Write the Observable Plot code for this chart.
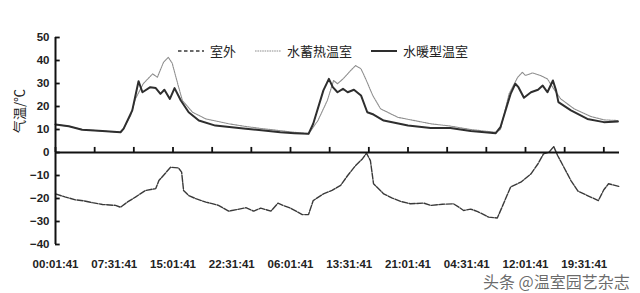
<!DOCTYPE html>
<html>
<head>
<meta charset="utf-8">
<script src="https://cdn.jsdelivr.net/npm/d3@7"></script>
<script src="https://cdn.jsdelivr.net/npm/@observablehq/plot@0.6"></script>
<style>
  html, body { margin: 0; padding: 0; background: #fff; }
  #wrap { position: relative; width: 640px; height: 293px; overflow: hidden; }
  #legend { position: absolute; top: 41px; left: 178px; display: flex; align-items: center;
    font-family: "Noto Sans CJK SC", sans-serif; font-size: 13px; color: #222; white-space: nowrap; }
  #legend .item { display: flex; align-items: center; margin-right: 19px; }
  #legend svg { margin-right: 6px; }
  #wm { position: absolute; left: 483px; top: 273px; line-height: 1; font-family: "Noto Sans CJK SC", sans-serif;
    font-size: 16px; color: rgba(80,80,80,0.85); text-shadow: 0 0 2px #fff, 0 0 1px #fff; white-space: nowrap; }
</style>
</head>
<body>
<div id="wrap"></div>
<script>
// ---- data (hours since 00:01:41, temperature °C) ----
const seriesNames = ["室外", "水蓄热温室", "水暖型温室"];

const outdoorHours = [0, 1.2, 2.55, 3.6, 4.7, 6.0, 7.66, 8.3, 9.2, 10.2, 11.5, 12.8, 13.2, 14.0, 14.7, 15.7, 16.1, 16.35, 17.0, 18.0, 19.2, 20.0, 20.8, 22.1, 23.2, 24.3, 25.3, 26.2, 27.5, 28.4, 29.2, 30.0, 31.5, 32.3, 32.9, 34.2, 35.3, 36.4, 37.3, 38.3, 39.2, 39.7, 40.2, 40.6, 41.9, 43.0, 44.1, 45.3, 47.0, 47.9, 49.4, 50.8, 51.5, 52.1, 53.0, 53.9, 55.3, 56.4, 57.1, 58.1, 59.4, 60.7, 61.6, 62.3, 63.0, 63.6, 64.1, 64.9, 65.8, 66.7, 67.9, 69.3, 70.0, 70.6, 71.9];
const outdoorTemp  = [-18, -19.3, -20.6, -21.0, -21.8, -22.6, -23, -23.8, -21.5, -19.4, -16.5, -15.7, -12.2, -9.1, -6.4, -6.7, -8.5, -16.5, -18.7, -20.2, -21.6, -22.2, -23, -25.5, -24.8, -24, -25.5, -24.2, -25.5, -22, -23.2, -24.2, -27, -27, -20.9, -18, -16.5, -14.3, -10, -5.7, -2.7, -0.3, -3.5, -13.6, -18, -19.8, -21.3, -22.3, -22, -23, -22.5, -22.3, -23.8, -25.2, -24.6, -25.7, -28.1, -28.5, -23, -15, -12.9, -9.3, -4.9, -0.6, 0.1, 2.6, -1.3, -6.4, -12.2, -16.8, -18.7, -20.9, -16.2, -13.6, -14.7];

const storageHours = [0, 1.7, 3.4, 6.0, 8.3, 8.7, 9.6, 10.2, 11.2, 12.4, 13.0, 13.8, 14.4, 14.9, 15.6, 16.2, 17.5, 19.2, 22.1, 24.3, 26.6, 28.7, 30.5, 32.3, 33.5, 34.7, 35.5, 36.0, 36.7, 37.7, 38.3, 39.0, 39.6, 40.5, 41.5, 43.7, 47.9, 50.4, 53.0, 56.2, 56.8, 57.9, 59.0, 59.6, 60.0, 60.9, 61.9, 62.8, 63.6, 64.5, 66.2, 68.3, 70.0, 71.8];
const storageTemp  = [12.2, 11.4, 10, 9.3, 8.8, 10.4, 16.1, 23.3, 29.9, 34.2, 32.7, 39.3, 41.4, 38.8, 29.9, 22.6, 17.5, 14.6, 12.5, 11.3, 10.3, 9.5, 8.8, 8.1, 13.9, 22.6, 31.3, 29.9, 32, 35.7, 37.8, 36.4, 32, 24.8, 19, 15.3, 12.5, 11.5, 10, 8.8, 10, 25.5, 32.7, 34.9, 33.5, 34.6, 33.5, 32, 27.7, 23.3, 19, 15.7, 14.2, 13.9];

const heatingHours = [0, 1.7, 3.4, 6.0, 8.3, 8.7, 9.8, 10.6, 11.1, 12.1, 12.8, 13.4, 13.9, 14.6, 15.2, 16.0, 17.0, 18.3, 20.4, 24.3, 26.6, 28.7, 30.5, 32.3, 32.9, 34.2, 34.9, 35.4, 36.0, 36.7, 37.3, 38.1, 39.0, 39.8, 40.6, 41.9, 45.0, 47.9, 50.4, 53.0, 56.2, 56.8, 58.1, 58.7, 59.1, 59.8, 60.7, 61.6, 62.2, 62.8, 63.5, 63.9, 64.2, 65.8, 67.9, 70.0, 71.8];
const heatingTemp  = [12.2, 11.4, 9.9, 9.3, 8.8, 10.4, 18.3, 31, 26.2, 28.4, 28, 25.5, 27.3, 23.3, 28, 22.6, 17.5, 13.9, 11.7, 10.3, 9.6, 8.8, 8.4, 8.1, 12.5, 27, 32, 28.4, 26.2, 27.7, 26.2, 27.3, 24.8, 17.5, 16.5, 13.9, 11.7, 10.7, 10.7, 9.3, 8.4, 11, 25.5, 29.9, 28.4, 23.8, 26.2, 27.3, 29.1, 26.2, 31.3, 27, 21.9, 18.3, 14.6, 13.2, 13.5];

const xLabelHours = [0, 7.5, 15, 22.5, 30, 37.5, 45, 52.5, 60, 67.5];
const xLabels = ["00:01:41", "07:31:41", "15:01:41", "22:31:41", "06:01:41", "13:31:41", "21:01:41", "04:31:41", "12:01:41", "19:31:41"];
const xTickHours = [0, 5, 10, 15, 20, 25, 30, 35, 40, 45, 50, 55, 60, 65, 70];
const yTicks = [-40, -30, -20, -10, 0, 10, 20, 30, 40, 50];
const yLabel = "气温/℃";
const watermark = "头条 @温室园艺杂志";

const toRows = (hs, ts) => hs.map((h, i) => ({h, t: ts[i]}));
const outdoor = toRows(outdoorHours, outdoorTemp);
const storage = toRows(storageHours, storageTemp);
const heating = toRows(heatingHours, heatingTemp);

const styles = [
  {stroke: "#3a3a3a", strokeWidth: 1.4, strokeDasharray: "6,1.5"},
  {stroke: "#8e8e8e", strokeWidth: 1.1, strokeDasharray: "1.6,0.8"},
  {stroke: "#2e2e2e", strokeWidth: 2}
];

const tickFont = {fontFamily: "Liberation Sans, Arial, sans-serif", fontWeight: "bold", fontSize: 11.5, fill: "#222"};

const chart = Plot.plot({
  width: 640, height: 293,
  marginLeft: 55, marginRight: 21, marginTop: 37, marginBottom: 49,
  style: {background: "#fff", color: "#222", fontFamily: "Liberation Sans, Arial, sans-serif"},
  x: {domain: [0, 72]},
  y: {domain: [-40, 50]},
  marks: [
    Plot.line(storage, {x: "h", y: "t", ...styles[1]}),
    Plot.line(heating, {x: "h", y: "t", ...styles[2]}),
    Plot.line(outdoor, {x: "h", y: "t", ...styles[0]}),
    // axes lines
    Plot.ruleY([0], {stroke: "#111", strokeWidth: 2}),
    Plot.ruleX([0], {stroke: "#111", strokeWidth: 2}),
    // inward tick marks
    Plot.ruleX(xTickHours, {y1: 0, y2: 2.2, stroke: "#111", strokeWidth: 1.8}),
    Plot.ruleY(yTicks, {x1: 0, x2: 0.6, stroke: "#111", strokeWidth: 1.8}),
    // tick labels
    Plot.axisY({ticks: yTicks, tickSize: 0, tickPadding: 6, ...tickFont, label: null}),
    Plot.axisX({ticks: xLabelHours, tickFormat: (d) => xLabels[xLabelHours.indexOf(d)], tickSize: 0, tickPadding: 15, ...tickFont, label: null}),
    Plot.text([yLabel], {frameAnchor: "left", rotate: -90, dx: -36, dy: -8, fontSize: 13, fill: "#222", fontFamily: "Noto Sans CJK SC, sans-serif"})
  ]
});

const wrap = document.getElementById("wrap");
wrap.appendChild(chart);

// legend
const legend = document.createElement("div");
legend.id = "legend";
seriesNames.forEach((name, i) => {
  const item = document.createElement("div");
  item.className = "item";
  const s = styles[i];
  item.innerHTML = `<svg width="26" height="6"><line x1="0" x2="26" y1="3" y2="3" stroke="${s.stroke}" stroke-width="${s.strokeWidth}" ${s.strokeDasharray ? `stroke-dasharray="${i === 0 ? "3.5,2.5" : s.strokeDasharray}"` : ""}/></svg><span>${name}</span>`;
  legend.appendChild(item);
});
wrap.appendChild(legend);

const wm = document.createElement("div");
wm.id = "wm";
wm.textContent = watermark;
wrap.appendChild(wm);
</script>
</body>
</html>
